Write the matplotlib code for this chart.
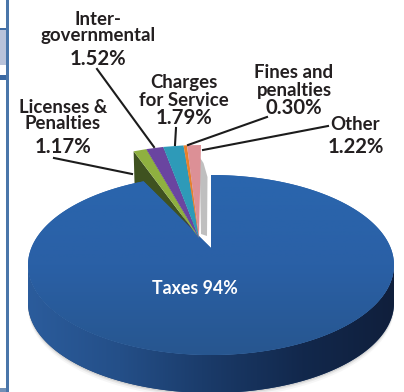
import numpy as np
import matplotlib
matplotlib.use("Agg")
import matplotlib.pyplot as plt
from matplotlib.colors import LinearSegmentedColormap
from matplotlib.patches import Polygon, Rectangle

# Revenue shares, in percent
categories = ["Taxes", "Licenses & Penalties", "Inter-governmental",
              "Charges for Service", "Fines and penalties", "Other"]
shares = [94, 1.17, 1.52, 1.79, 0.30, 1.22]
tops = ["#2a62a8", "#8fb040", "#6a45a0", "#2e9ab8", "#e8802a", "#dc9096"]
sides = ["#1b3f72", "#3f5220", "#3a2560", "#1c6a82", "#a85614", "#a5a5a5"]

plt.rcParams["font.family"] = ["Lato", "DejaVu Sans"]

W, H = 404, 392
fig = plt.figure(figsize=(W / 100, H / 100), dpi=100)
ax = fig.add_axes([0, 0, 1, 1])
ax.set_xlim(0, W)
ax.set_ylim(H, 0)
ax.axis("off")

CX, CY, RX, RY = 211, 265, 183, 90
DEPTH = 38


def rim(deg):
    """Point on the pie's elliptical rim; degrees run clockwise from 12 o'clock."""
    t = np.radians(deg)
    return CX + RX * np.sin(t), CY - RY * np.cos(t)


def arc(a0, a1, n=240):
    return np.column_stack(rim(np.linspace(a0, a1, n)))


# page furniture at the left edge
ax.add_patch(Rectangle((0, 28), 7, 2, fc="#3f6ca4", ec="none"))
ax.add_patch(Rectangle((0, 30), 7, 35, fc="#b9c3da", ec="none"))
ax.add_patch(Rectangle((0, 75), 7, 5, fc="#3a68a2", ec="none"))
ax.add_patch(Rectangle((0, 388), 7, 4, fc="#6f8fb6", ec="none"))
ax.add_patch(Rectangle((6, 0), 3, H, fc="#4a76aa", ec="none"))

# cumulative angles: Taxes from 12 o'clock clockwise, the rest close the circle
edges = np.concatenate([[0], np.cumsum(shares)]) * 3.6

# soft shadow beneath the pie wall
front = arc(90, 270)
for grow, alpha in ((5, .05), (3, .09), (1.5, .14)):
    ax.add_patch(Polygon(np.column_stack([front[:, 0], front[:, 1] + DEPTH + grow]),
                         fc="#555555", ec="none", alpha=alpha, zorder=1))

# rim wall of the large slice, darkening from left to right
wall_outline = np.vstack([front, np.column_stack([front[::-1, 0], front[::-1, 1] + DEPTH])])
wall = ax.add_patch(Polygon(wall_outline, fc=sides[0], ec="none", zorder=1.5))
wall_cmap = LinearSegmentedColormap.from_list(
    "wall", ["#2b5c9c", "#244f88", "#1a3a68", "#12284c", "#101f3c"])
wall_img = ax.imshow(np.linspace(0, 1, 256)[None, :], extent=(CX - RX, CX + RX, H + 8, CY - 5),
                     cmap=wall_cmap, aspect="auto", zorder=1.6)
wall_img.set_clip_path(wall)

# exploded small slices rise above the pie and meet near the apex
TIP = np.array((199, 238))
SHIFT = np.array((-10, -30))

for i in range(1, 6):
    p0 = np.array(rim(edges[i])) + SHIFT
    drop = 36 if i == 1 else 8
    ax.add_patch(Polygon([TIP, p0, p0 + (1, drop), TIP - (5, 3)],
                         fc=sides[i], ec="none", zorder=2))

# grey wall of the last slice, seen across the gap
p_last = np.array(rim(edges[6])) + SHIFT + (1.5, 0)
ax.add_patch(Polygon([TIP + (2, -4), p_last + (-3, 12), p_last + (1, 18), p_last + (5, 32), TIP + (8, -2)],
                     fc=sides[5], ec="none", alpha=.7, zorder=2))

# top face of the large slice, slightly darker towards the viewer
APEX = (211, 248)
outline = np.vstack([[APEX], arc(edges[0], edges[1])])
top = ax.add_patch(Polygon(outline, fc=tops[0], ec="none", zorder=2.5))
face_cmap = LinearSegmentedColormap.from_list("face", ["#2a66ae", "#2a60a6", "#27568f"])
face_img = ax.imshow(np.linspace(0, 1, 256)[:, None], extent=(CX - RX, CX + RX, CY + RY, CY - RY),
                     cmap=face_cmap, aspect="auto", zorder=2.6)
face_img.set_clip_path(top)
ax.set_xlim(0, W)
ax.set_ylim(H, 0)

# top faces of the small slices
for i in range(1, 6):
    p0 = np.array(rim(edges[i])) + SHIFT
    p1 = np.array(rim(edges[i + 1])) + SHIFT
    ax.add_patch(Polygon([TIP, p0, p1], fc=tops[i], ec="none", zorder=3))

# leader lines
leaders = [((54, 158), (132, 174)), ((97, 69), (154, 147)), ((176, 128), (175, 145)),
           ((267, 117), (188, 145)), ((328, 126), (203, 150))]
for a, b in leaders:
    ax.plot(*zip(a, b), color="#1c1c1c", lw=1.5, zorder=4)

INK = "#231f20"
names = [(98, 19, "Inter-"), (98, 35, "governmental"),
         (184, 82, "Charges"), (184, 100, "for Service"),
         (63, 107, "Licenses &"), (63, 123, "Penalties"),
         (294, 72, "Fines and"), (294, 90, "penalties"),
         (355, 124, "Other")]
for x, y, s in names:
    ax.text(x, y, s, ha="center", va="center", fontsize=13.4, fontweight="bold", color=INK, zorder=5)
values = [(98, 59, "1.52%"), (184, 118, "1.79%"), (63, 147, "1.17%"),
          (294, 108, "0.30%"), (356, 147, "1.22%")]
for x, y, s in values:
    ax.text(x, y, s, ha="center", va="center", fontsize=14.6, fontweight="bold", color=INK, zorder=5)
ax.text(194.5, 289, "Taxes 94%", ha="center", va="center", fontsize=12.8, fontweight="bold",
        color="white", zorder=5)

fig.savefig("out.png", dpi=100)
